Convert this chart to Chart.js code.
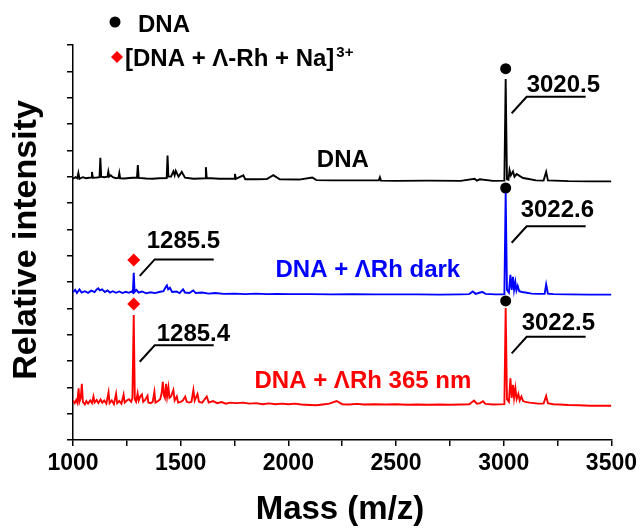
<!DOCTYPE html>
<html>
<head>
<meta charset="utf-8">
<script src="https://cdn.jsdelivr.net/npm/chart.js@4/dist/chart.umd.min.js"></script>
<style>
  html, body { margin: 0; padding: 0; background: #fff; }
  #chart { display: block; }
</style>
</head>
<body>
<canvas id="chart" width="641" height="530"></canvas>
<script>
// --- DATA ---
// x ticks of the mass axis
const massTicks = [1000, 1500, 2000, 2500, 3000, 3500];

// each trace: [m/z, intensity above its own baseline]
const dnaSpectrum = [
  [1000, 0.12], [1012, 0.18], [1020, 0.14], [1025, 0.34], [1030, 0.12], [1045, 0.18], [1060, 0.14],
  [1084, 0.17], [1088, 0.38], [1092, 0.16], [1110, 0.17], [1123, 0.18], [1127, 0.92], [1131, 0.2],
  [1145, 0.18], [1160, 0.2], [1164, 0.39], [1168, 0.2], [1175, 0.25], [1185, 0.18], [1200, 0.14],
  [1211, 0.15], [1215, 0.34], [1219, 0.14], [1240, 0.13], [1260, 0.15], [1280, 0.16],
  [1297, 0.16], [1301, 0.64], [1305, 0.15], [1340, 0.13], [1370, 0.12], [1400, 0.14],
  [1435, 0.15], [1439, 1.0], [1443, 0.2], [1455, 0.2], [1466, 0.4], [1472, 0.25], [1477, 0.42],
  [1490, 0.2], [1505, 0.38], [1520, 0.16], [1560, 0.12], [1590, 0.13],
  [1613, 0.14], [1617, 0.56], [1621, 0.14], [1640, 0.14], [1680, 0.12], [1720, 0.12],
  [1748, 0.12], [1752, 0.3], [1756, 0.12], [1791, 0.25], [1800, 0.1], [1850, 0.1], [1900, 0.11],
  [1930, 0.26], [1960, 0.1], [2050, 0.09], [2111, 0.17], [2130, 0.07], [2200, 0.06], [2300, 0.06],
  [2420, 0.06], [2425, 0.18], [2430, 0.05], [2500, 0.04], [2650, 0.05], [2800, 0.04], [2865, 0.12],
  [2875, 0.05], [2889, 0.1], [2950, 0.04], [3003, 0.05], [3009, 3.91], [3015, 0.1], [3022, 0.08],
  [3027, 0.45], [3033, 0.25], [3043, 0.4], [3050, 0.2], [3060, 0.3], [3075, 0.22], [3090, 0.15],
  [3110, 0.12], [3150, 0.06], [3185, 0.05], [3197, 0.38], [3205, 0.06], [3300, 0.03], [3400, 0.02],
  [3500, 0.02]
];

const darkSpectrum = [
  [1000, 0.12], [1010, 0.2], [1018, 0.08], [1030, 0.22], [1040, 0.1], [1055, 0.15], [1070, 0.09],
  [1085, 0.17], [1100, 0.12], [1110, 0.22], [1117, 0.26], [1125, 0.18], [1135, 0.22], [1148, 0.12],
  [1160, 0.18], [1172, 0.1], [1185, 0.15], [1200, 0.09], [1215, 0.14], [1230, 0.08], [1245, 0.13],
  [1260, 0.09], [1272, 0.14], [1278, 0.1], [1282, 0.85], [1286, 0.12], [1295, 0.2], [1305, 0.1],
  [1320, 0.14], [1340, 0.07], [1360, 0.11], [1380, 0.08], [1400, 0.12], [1420, 0.15], [1430, 0.3],
  [1436, 0.37], [1442, 0.22], [1450, 0.28], [1460, 0.12], [1480, 0.14], [1495, 0.08], [1511, 0.22],
  [1520, 0.1], [1540, 0.08], [1558, 0.18], [1570, 0.08], [1600, 0.1], [1630, 0.06], [1660, 0.08],
  [1700, 0.05], [1750, 0.06], [1800, 0.04], [1850, 0.06], [1900, 0.04], [1950, 0.05], [2000, 0.04],
  [2100, 0.04], [2200, 0.03], [2300, 0.04], [2400, 0.03], [2500, 0.03], [2600, 0.03], [2700, 0.02],
  [2800, 0.03], [2840, 0.04], [2856, 0.14], [2870, 0.05], [2890, 0.1], [2902, 0.12], [2915, 0.05],
  [2960, 0.03], [3003, 0.03], [3009, 3.88], [3015, 0.2], [3024, 0.1], [3031, 0.77], [3037, 0.2],
  [3043, 0.7], [3048, 0.2], [3054, 0.5], [3059, 0.18], [3065, 0.35], [3072, 0.15], [3085, 0.12],
  [3100, 0.1], [3130, 0.06], [3160, 0.05], [3190, 0.05], [3197, 0.41], [3205, 0.06], [3230, 0.04],
  [3300, 0.03], [3400, 0.02], [3500, 0.02]
];

const uvSpectrum = [
  [1000, 0.2], [1008, 0.1], [1015, 0.22], [1020, 0.12], [1026, 0.66], [1030, 0.15], [1036, 0.3],
  [1041, 0.83], [1046, 0.15], [1055, 0.05], [1062, 0.18], [1070, 0.08], [1080, 0.2], [1088, 0.1],
  [1095, 0.35], [1100, 0.12], [1110, 0.22], [1118, 0.1], [1128, 0.24], [1136, 0.12], [1145, 0.2],
  [1155, 0.08], [1165, 0.51], [1170, 0.1], [1180, 0.2], [1190, 0.06], [1200, 0.45], [1205, 0.1],
  [1215, 0.18], [1225, 0.08], [1235, 0.42], [1240, 0.12], [1250, 0.2], [1260, 0.25], [1270, 0.15],
  [1276, 0.3], [1282, 3.45], [1287, 0.25], [1293, 0.15], [1300, 0.47], [1305, 0.2], [1312, 0.35],
  [1320, 0.43], [1326, 0.15], [1335, 0.22], [1346, 0.38], [1350, 0.12], [1360, 0.1], [1370, 0.15],
  [1378, 0.53], [1383, 0.12], [1395, 0.18], [1405, 0.25], [1412, 0.5], [1417, 0.91], [1422, 0.4],
  [1427, 0.3], [1432, 0.83], [1437, 0.35], [1443, 0.7], [1448, 0.3], [1455, 0.35], [1466, 0.6],
  [1472, 0.2], [1482, 0.35], [1488, 0.12], [1500, 0.15], [1510, 0.2], [1521, 0.35], [1528, 0.15],
  [1540, 0.12], [1550, 0.15], [1559, 0.6], [1565, 0.2], [1578, 0.45], [1585, 0.15], [1600, 0.12],
  [1621, 0.35], [1630, 0.12], [1650, 0.18], [1670, 0.1], [1690, 0.14], [1710, 0.08], [1730, 0.12],
  [1760, 0.1], [1790, 0.12], [1820, 0.08], [1850, 0.1], [1880, 0.06], [1910, 0.09], [1940, 0.06],
  [1970, 0.08], [2000, 0.06], [2030, 0.08], [2060, 0.05], [2100, 0.03], [2130, 0.02], [2160, 0.05],
  [2190, 0.08], [2224, 0.18], [2250, 0.06], [2280, 0.05], [2320, 0.07], [2350, 0.05], [2400, 0.06],
  [2450, 0.05], [2500, 0.06], [2550, 0.04], [2600, 0.05], [2650, 0.04], [2700, 0.05], [2750, 0.04],
  [2800, 0.05], [2840, 0.06], [2862, 0.2], [2875, 0.08], [2890, 0.1], [2904, 0.17], [2915, 0.07],
  [2950, 0.05], [3003, 0.06], [3009, 3.71], [3015, 0.25], [3024, 0.15], [3031, 1.04], [3037, 0.3],
  [3043, 0.79], [3048, 0.3], [3054, 0.67], [3060, 0.25], [3068, 0.45], [3074, 0.2], [3082, 0.35],
  [3090, 0.18], [3100, 0.15], [3120, 0.12], [3140, 0.1], [3160, 0.08], [3185, 0.08], [3197, 0.37],
  [3205, 0.1], [3230, 0.06], [3260, 0.05], [3300, 0.03], [3350, 0.02], [3400, 0.0], [3500, 0.0]
];

// vertical stacking of the three traces (axis units)
const traceOffsets = [9.8, 5.5, 1.3];
const traceNames = ['DNA', 'DNA + \u039BRh dark', 'DNA + \u039BRh 365 nm'];

// marker symbols: [m/z, axis value]
const dnaMarks = [[3009, 14.1], [3009, 9.57], [3009, 5.28]];
const adductMarks = [[1282, 6.84], [1282, 5.16]];

// peak labels and the point where each leader line starts: [m/z, axis value]
const peakLabels = ['3020.5', '3022.6', '3022.5', '1285.5', '1285.4'];
const peakLeaders = [[3009, 12.41], [3009, 7.49], [3009, 3.29], [1282, 6.23], [1282, 2.97]];

// --- CONFIG ---
const FONT = '"Liberation Sans", Arial, sans-serif';
const COLORS = ['#000000', '#0000ff', '#ff0000'];

const toPoints = (spec, off) => spec.map(([mz, v]) => ({ x: mz, y: v + off }));
const toMarks = (list) => list.map(([mz, v]) => ({ x: mz, y: v }));

// per-label text nudges relative to the end of the diagonal [dx, gap above line]
const textNudge = [[0, 5], [-6, 9], [-5, 7], [-8, 11], [2, 4]];
// trace name positions in data units [m/z, axis value]
const nameAt = [[2253, 10.63], [2369, 6.46], [2346, 2.24]];

const overlay = {
    id: 'overlay',
    afterDatasetsDraw(chart) {
        const { ctx, scales: { x, y } } = chart;
        ctx.save();

        // leader lines + peak values
        ctx.strokeStyle = '#000';
        ctx.fillStyle = '#000';
        ctx.lineWidth = 2;
        ctx.font = `bold 24px ${FONT}`;
        ctx.textAlign = 'left';
        ctx.textBaseline = 'alphabetic';
        peakLabels.forEach((label, i) => {
            const px = x.getPixelForValue(peakLeaders[i][0]) + 6;
            const py = y.getPixelForValue(peakLeaders[i][1]);
            const ex = px + 15, ey = py - 16.5;
            ctx.beginPath();
            ctx.moveTo(px, py);
            ctx.lineTo(ex, ey);
            ctx.lineTo(ex + 59, ey);
            ctx.stroke();
            ctx.fillText(label, ex + textNudge[i][0], ey - textNudge[i][1]);
        });

        // trace names
        ctx.font = `bold 24px ${FONT}`;
        ctx.textAlign = 'center';
        ctx.textBaseline = 'middle';
        traceNames.forEach((name, i) => {
            ctx.fillStyle = COLORS[i];
            ctx.fillText(name, x.getPixelForValue(nameAt[i][0]), y.getPixelForValue(nameAt[i][1]));
        });

        // legend
        ctx.fillStyle = '#000';
        ctx.beginPath();
        ctx.arc(115, 22, 5.5, 0, Math.PI * 2);
        ctx.fill();
        ctx.fillStyle = '#ff0000';
        ctx.beginPath();
        ctx.moveTo(117, 51); ctx.lineTo(123, 57); ctx.lineTo(117, 63); ctx.lineTo(111, 57);
        ctx.closePath();
        ctx.fill();
        ctx.fillStyle = '#000';
        ctx.textAlign = 'left';
        ctx.font = `bold 24px ${FONT}`;
        ctx.fillText('DNA', 138, 25);
        const main = '[DNA + \u039B-Rh + Na]';
        ctx.fillText(main, 125, 59);
        const w = ctx.measureText(main).width;
        ctx.font = `bold 15px ${FONT}`;
        ctx.fillText('3+', 125 + w + 2, 53);

        // axis titles
        ctx.font = `bold 33px ${FONT}`;
        ctx.textAlign = 'center';
        ctx.fillText('Mass (m/z)', 340, 510);
        ctx.font = `bold 34px ${FONT}`;
        ctx.translate(27, 240);
        ctx.rotate(-Math.PI / 2);
        ctx.fillText('Relative intensity', 0, 0);

        ctx.restore();
    }
};

const traceSets = [dnaSpectrum, darkSpectrum, uvSpectrum].map((spec, i) => ({
    type: 'line',
    data: toPoints(spec, traceOffsets[i]),
    borderColor: COLORS[i],
    borderWidth: 1.9,
    pointRadius: 0,
    tension: 0,
    fill: false
}));

new Chart(document.getElementById('chart'), {
    type: 'scatter',
    data: {
        datasets: [
            ...traceSets,
            {
                data: toMarks(dnaMarks),
                pointStyle: 'circle',
                pointRadius: 5.5,
                backgroundColor: '#000',
                borderWidth: 0
            },
            {
                data: toMarks(adductMarks),
                pointStyle: 'rectRot',
                pointRadius: 6.5,
                backgroundColor: '#ff0000',
                borderWidth: 0
            }
        ]
    },
    options: {
        responsive: false,
        animation: false,
        layout: { padding: { top: 45, right: 29, left: 0, bottom: 0 } },
        plugins: { legend: { display: false }, tooltip: { enabled: false } },
        scales: {
            x: {
                type: 'linear',
                min: 1000,
                max: 3500,
                afterFit: (s) => { s.height = 90; },
                ticks: {
                    stepSize: 250,
                    autoSkip: false,
                    maxRotation: 0,
                    color: '#000',
                    font: { family: FONT, size: 23, weight: 'bold' },
                    padding: 4,
                    callback: (v) => massTicks.includes(v) ? String(v) : ''
                },
                grid: { drawOnChartArea: false, tickLength: 6, color: '#000', lineWidth: 1.5 },
                border: { color: '#000', width: 1.5 }
            },
            y: {
                min: 0,
                max: 15,
                afterFit: (s) => { s.width = 73; },
                ticks: { stepSize: 1, callback: () => '' },
                grid: { drawOnChartArea: false, tickLength: 6, color: '#000', lineWidth: 1.5 },
                border: { color: '#000', width: 1.5 }
            }
        }
    },
    plugins: [overlay]
});
</script>
</body>
</html>
